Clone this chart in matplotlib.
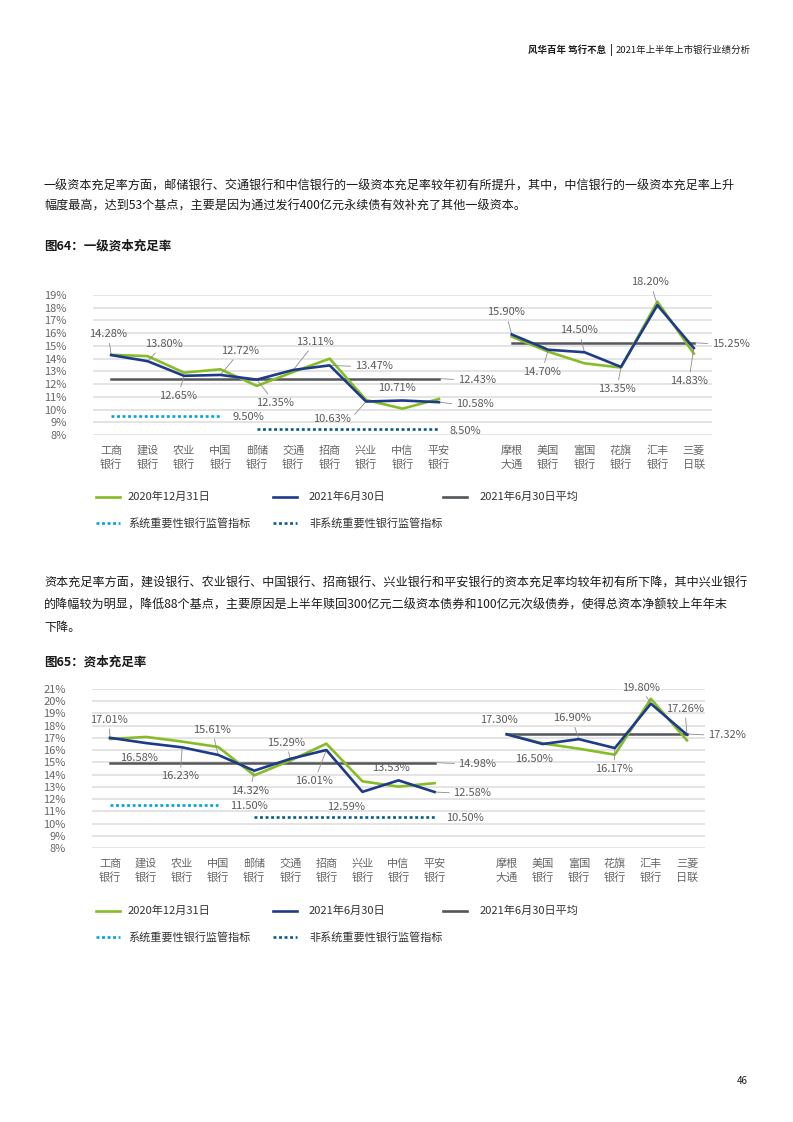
import matplotlib
matplotlib.use("Agg")
import matplotlib.pyplot as plt
from matplotlib.lines import Line2D

plt.rcParams['font.family'] = ['Noto Sans CJK SC', 'DejaVu Sans']

W, H = 793, 1122
GREEN = "#86BC25"
BLUE = "#1E3A8A"
AVGC = "#53565A"
SYSC = "#00A3E0"
NSYSC = "#0B5A8C"
GRID = "#DCDCDC"
LABEL = "#5A5A5A"
LEAD = "#8C8C8C"
INK = "#1A1A1A"

LEFT_BANKS = ["工商\n银行", "建设\n银行", "农业\n银行", "中国\n银行", "邮储\n银行",
              "交通\n银行", "招商\n银行", "兴业\n银行", "中信\n银行", "平安\n银行"]
RIGHT_BANKS = ["摩根\n大通", "美国\n银行", "富国\n银行", "花旗\n银行", "汇丰\n银行", "三菱\n日联"]
SERIES_NAMES = ["2020年12月31日", "2021年6月30日", "2021年6月30日平均"]
REG_NAMES = ["系统重要性银行监管指标", "非系统重要性银行监管指标"]

# 图64 一级资本充足率
T1_2020_LEFT = [14.30, 14.20, 12.90, 13.16, 11.86, 12.95, 14.00, 10.75, 10.07, 10.83]
T1_2021_LEFT = [14.28, 13.80, 12.65, 12.72, 12.35, 13.11, 13.47, 10.63, 10.71, 10.58]
T1_2020_RIGHT = [15.73, 14.55, 13.63, 13.30, 18.48, 14.40]
T1_2021_RIGHT = [15.90, 14.70, 14.50, 13.35, 18.20, 14.83]
T1_AVG = [12.43, 15.25]
T1_REG = [9.50, 8.50]

# 图65 资本充足率
C_2020_LEFT = [16.91, 17.08, 16.70, 16.26, 13.94, 15.15, 16.53, 13.45, 13.02, 13.30]
C_2021_LEFT = [17.01, 16.58, 16.23, 15.61, 14.32, 15.29, 16.01, 12.59, 13.53, 12.58]
C_2020_RIGHT = [17.30, 16.55, 16.12, 15.63, 20.20, 16.80]
C_2021_RIGHT = [17.30, 16.50, 16.90, 16.17, 19.80, 17.26]
C_AVG = [14.98, 17.32]
C_REG = [11.50, 10.50]

# label layout: (dx px, dy px, mode)  c=centered+leader, n=centered no leader,
# r=text right of point + leader, l=text left of point + leader, t=text right, no leader
T1_LAB = [(-3, 21, "c"), (16, 17, "c"), (-6, -20, "c"), (20, 24, "c"), (18, -23, "c"),
          (22, 28, "c"), (25, -1, "r"), (-34, -17, "l"), (-6, 13, "n"), (17, -2, "r"),
          (-6, 22, "c"), (-6, -22, "c"), (-6, 22, "c"), (-4, -22, "c"), (-7, 23, "c"),
          (-5, -33, "c")]
T1_AVG_LAB = [(19, -1, "r"), (18, -1, "r")]
T1_REG_LAB = [(12, -1, "t"), (11, -2, "t")]

C_LAB = [(-1, 18, "c"), (-7, -15, "n"), (-2, -29, "c"), (-6, 25, "c"), (-4, -20, "c"),
         (-4, 16, "c"), (-12, -31, "c"), (-16, -15, "n"), (-8, 12, "n"), (19, -1, "r"),
         (-8, 14, "n"), (-9, -15, "n"), (-7, 21, "c"), (-1, -21, "c"), (-10, 16, "c"),
         (-2, 26, "c")]
C_AVG_LAB = [(24, -1, "r"), (21, -1, "r")]
C_REG_LAB = [(12, -1, "t"), (12, -1, "t")]


def fx(x):
    return x / W


def fy(y):
    return 1 - y / H


def label(ax, x, y, text, lay):
    dx, dy, mode = lay
    kw = dict(xy=(x, y), xytext=(dx, dy), textcoords="offset pixels", va="center",
              fontsize=8, color=LABEL, annotation_clip=False)
    kw["ha"] = "left" if mode in ("r", "t") else "center"
    if mode in ("c", "r", "l"):
        rel = {"c": (0.5, 0.5), "r": (0, 0.5), "l": (1, 0.5)}[mode]
        kw["arrowprops"] = dict(arrowstyle="-", color=LEAD, lw=0.6, shrinkA=1,
                                shrinkB=1, relpos=rel)
    ax.annotate(text, **kw)


def panel(box, ylim, g_l, b_l, g_r, b_r, avg, reg, lab, avg_lab, reg_lab):
    left, top, right, bottom = box
    ax = fig.add_axes([fx(left), fy(bottom), fx(right - left), (bottom - top) / H])
    xl = list(range(len(LEFT_BANKS)))
    xr = [len(LEFT_BANKS) + 1 + i for i in range(len(RIGHT_BANKS))]
    ax.set_xlim(-0.5, xr[-1] + 0.5)
    ax.set_ylim(*ylim)
    ax.set_yticks(range(ylim[0], ylim[1] + 1))
    ax.set_yticklabels([f"{v}%" for v in range(ylim[0], ylim[1] + 1)])
    ax.set_xticks(xl + xr)
    ax.set_xticklabels([])
    # two-line category names, each line on a fixed baseline
    for x, name in zip(xl + xr, LEFT_BANKS + RIGHT_BANKS):
        for k, part in enumerate(name.split("\n")):
            ax.annotate(part, xy=(x, 0), xycoords=ax.get_xaxis_transform(),
                        xytext=(0, -19 - 14 * k), textcoords="offset pixels",
                        ha="center", va="baseline", fontsize=8, color="#666666")
    ax.tick_params(axis="y", length=0, pad=19, labelsize=8, labelcolor="#666666")
    ax.tick_params(axis="x", length=0)
    ax.grid(axis="y", color=GRID, lw=1.1)
    ax.set_axisbelow(True)
    for sp in ax.spines.values():
        sp.set_visible(False)

    ax.plot([xl[0], xl[-1]], [avg[0]] * 2, color=AVGC, lw=1.8, zorder=2)
    ax.plot([xr[0], xr[-1]], [avg[1]] * 2, color=AVGC, lw=1.8, zorder=2)
    ax.plot([xl[0], xl[3]], [reg[0]] * 2, color=SYSC, lw=1.9, ls=(0, (1.1, 1.0)), zorder=2)
    ax.plot([xl[4], xl[-1]], [reg[1]] * 2, color=NSYSC, lw=1.9, ls=(0, (1.1, 1.0)), zorder=2)
    for xs, g, b in ((xl, g_l, b_l), (xr, g_r, b_r)):
        ax.plot(xs, g, color=GREEN, lw=1.9, zorder=3)
        ax.plot(xs, b, color=BLUE, lw=1.9, zorder=4)

    for x, v, lay in zip(xl + xr, b_l + b_r, lab):
        label(ax, x, v, f"{v:.2f}%", lay)
    label(ax, xl[-1], avg[0], f"{avg[0]:.2f}%", avg_lab[0])
    label(ax, xr[-1], avg[1], f"{avg[1]:.2f}%", avg_lab[1])
    label(ax, xl[3], reg[0], f"{reg[0]:.2f}%", reg_lab[0])
    label(ax, xl[-1], reg[1], f"{reg[1]:.2f}%", reg_lab[1])
    return ax


def legend(y1, y2):
    rows = [(y1, 96, 120, 128, SERIES_NAMES[0], GREEN, "-"),
            (y1, 273, 297, 309, SERIES_NAMES[1], BLUE, "-"),
            (y1, 443, 467, 480, SERIES_NAMES[2], AVGC, "-"),
            (y2, 96, 120, 128, REG_NAMES[0], SYSC, (0, (1.1, 1.0))),
            (y2, 273, 297, 309, REG_NAMES[1], NSYSC, (0, (1.1, 1.0)))]
    for y, x0, x1, xt, name, c, ls in rows:
        fig.add_artist(Line2D([fx(x0), fx(x1)], [fy(y)] * 2, color=c, lw=1.9, ls=ls,
                              transform=fig.transFigure))
        fig.text(fx(xt), fy(y), name, fontsize=8, color="#333333", va="center")


fig = plt.figure(figsize=(W / 100, H / 100), dpi=100)
fig.patch.set_facecolor("white")

# header
fig.text(fx(606), fy(50), "风华百年 笃行不怠", fontsize=6.8, fontweight="bold",
         ha="right", va="center", color=INK)
fig.text(fx(611), fy(50), "|", fontsize=7, fontweight="bold", ha="center", va="center",
         color=INK)
fig.text(fx(616), fy(50), "2021年上半年上市银行业绩分析", fontsize=6.8, ha="left",
         va="center", color=INK)

P1 = ["一级资本充足率方面，邮储银行、交通银行和中信银行的一级资本充足率较年初有所提升，其中，中信银行的一级资本充足率上升",
      "幅度最高，达到53个基点，主要是因为通过发行400亿元永续债有效补充了其他一级资本。"]
P2 = ["资本充足率方面，建设银行、农业银行、中国银行、招商银行、兴业银行和平安银行的资本充足率均较年初有所下降，其中兴业银行",
      "的降幅较为明显，降低88个基点，主要原因是上半年赎回300亿元二级资本债券和100亿元次级债券，使得总资本净额较上年年末",
      "下降。"]
for i, s in enumerate(P1):
    fig.text(fx(44), fy(186 + 20 * i), s, fontsize=8.7, color=INK, va="center")
for i, s in enumerate(P2):
    fig.text(fx(44), fy(583 + 22 * i), s, fontsize=8.7, color=INK, va="center")

fig.text(fx(44), fy(246), "图64：一级资本充足率", fontsize=9, fontweight="bold",
         color=INK, va="center")
fig.text(fx(44), fy(662), "图65：资本充足率", fontsize=9, fontweight="bold",
         color=INK, va="center")

panel((93, 295, 712, 435), (8, 19), T1_2020_LEFT, T1_2021_LEFT, T1_2020_RIGHT,
      T1_2021_RIGHT, T1_AVG, T1_REG, T1_LAB, T1_AVG_LAB, T1_REG_LAB)
legend(497, 523)

panel((92, 689, 705, 848), (8, 21), C_2020_LEFT, C_2021_LEFT, C_2020_RIGHT,
      C_2021_RIGHT, C_AVG, C_REG, C_LAB, C_AVG_LAB, C_REG_LAB)
legend(911, 937)

fig.text(fx(742), fy(1081), "46", fontsize=7, color=INK, ha="center", va="center")

fig.savefig("out.png", dpi=100, facecolor="white")
